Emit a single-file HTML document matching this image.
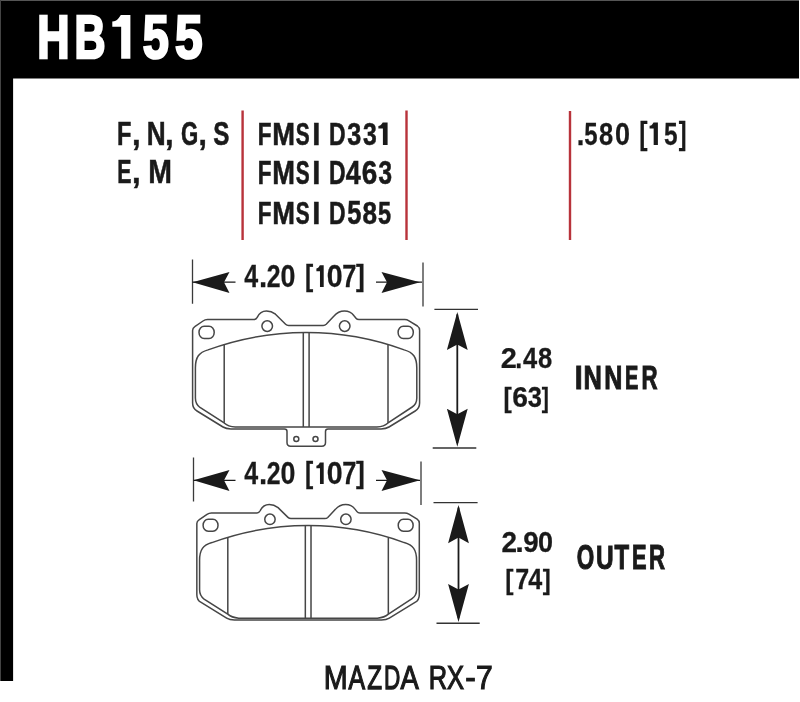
<!DOCTYPE html>
<html><head><meta charset="utf-8"><style>
html,body{margin:0;padding:0;background:#fff;}
svg{display:block;will-change:transform;}
text{font-family:"Liberation Sans", sans-serif;font-kerning:none;}
</style></head><body>
<svg width="800" height="702" viewBox="0 0 800 702">
<rect x="0" y="0" width="800" height="702" fill="#fff"/>
<rect x="0" y="0" width="799" height="78.5" fill="#000"/>
<rect x="0" y="0" width="13.1" height="681" fill="#000"/>
<rect x="0" y="0" width="799" height="1" fill="#555"/>
<rect x="0" y="0" width="1" height="681" fill="#444"/>
<path d="M242.6,110.6 L242.6,240 M406.5,110.6 L406.5,240 M570,111 L570,240" stroke="#b8333b" stroke-width="2.4" fill="none"/>
<text transform="translate(37.36,57.65) scale(0.7416,1.0000)" font-size="60.32" font-weight="bold" fill="#fff" stroke="#fff" stroke-width="2.64" stroke-linejoin="miter">H</text>
<text transform="translate(74.38,57.65) scale(0.7122,1.0000)" font-size="60.32" font-weight="bold" fill="#fff" stroke="#fff" stroke-width="2.69" stroke-linejoin="miter">B</text>
<path d="M121.17,15.00 L130.40,15.00 L130.40,58.80 L121.17,58.80 L121.17,26.83 L112.30,26.83 L112.30,21.57 C117.73,21.13 119.00,17.63 120.81,15.00 Z" fill="#fff"/>
<text transform="translate(142.71,57.65) scale(0.7763,1.0000)" font-size="60.32" font-weight="bold" fill="#fff" stroke="#fff" stroke-width="2.59" stroke-linejoin="miter">5</text>
<text transform="translate(174.92,57.65) scale(0.8230,1.0000)" font-size="60.32" font-weight="bold" fill="#fff" stroke="#fff" stroke-width="2.52" stroke-linejoin="miter">5</text>
<text transform="translate(116.97,145.05) scale(0.7171,1.0000)" font-size="32.85" font-weight="bold" fill="#1a1a1a" stroke="#1a1a1a" stroke-width="0.58" stroke-linejoin="miter">F</text>
<text transform="translate(131.89,145.05) scale(0.9469,1.0000)" font-size="32.85" font-weight="bold" fill="#1a1a1a" stroke="#1a1a1a" stroke-width="0.51" stroke-linejoin="miter">,</text>
<text transform="translate(146.80,145.05) scale(0.7974,1.0000)" font-size="32.85" font-weight="bold" fill="#1a1a1a" stroke="#1a1a1a" stroke-width="0.56" stroke-linejoin="miter">N</text>
<text transform="translate(164.89,145.05) scale(0.9469,1.0000)" font-size="32.85" font-weight="bold" fill="#1a1a1a" stroke="#1a1a1a" stroke-width="0.51" stroke-linejoin="miter">,</text>
<text transform="translate(181.09,145.05) scale(0.6744,1.0000)" font-size="32.85" font-weight="bold" fill="#1a1a1a" stroke="#1a1a1a" stroke-width="0.60" stroke-linejoin="miter">G</text>
<text transform="translate(198.41,145.05) scale(0.9150,1.0000)" font-size="32.85" font-weight="bold" fill="#1a1a1a" stroke="#1a1a1a" stroke-width="0.52" stroke-linejoin="miter">,</text>
<text transform="translate(213.25,145.05) scale(0.7368,1.0000)" font-size="32.85" font-weight="bold" fill="#1a1a1a" stroke="#1a1a1a" stroke-width="0.58" stroke-linejoin="miter">S</text>
<text transform="translate(117.13,183.00) scale(0.6571,1.0000)" font-size="32.41" font-weight="bold" fill="#1a1a1a" stroke="#1a1a1a" stroke-width="0.60" stroke-linejoin="miter">E</text>
<text transform="translate(131.89,183.00) scale(0.9596,1.0000)" font-size="32.41" font-weight="bold" fill="#1a1a1a" stroke="#1a1a1a" stroke-width="0.51" stroke-linejoin="miter">,</text>
<text transform="translate(148.15,183.00) scale(0.8780,1.0000)" font-size="32.41" font-weight="bold" fill="#1a1a1a" stroke="#1a1a1a" stroke-width="0.53" stroke-linejoin="miter">M</text>
<text transform="translate(257.75,144.75) scale(0.7027,1.0000)" font-size="31.98" font-weight="bold" fill="#1a1a1a" stroke="#1a1a1a" stroke-width="0.59" stroke-linejoin="miter">F</text>
<text transform="translate(272.22,144.75) scale(0.8542,1.0000)" font-size="31.98" font-weight="bold" fill="#1a1a1a" stroke="#1a1a1a" stroke-width="0.54" stroke-linejoin="miter">M</text>
<text transform="translate(295.65,144.75) scale(0.6525,1.0000)" font-size="31.98" font-weight="bold" fill="#1a1a1a" stroke="#1a1a1a" stroke-width="0.61" stroke-linejoin="miter">S</text>
<text transform="translate(312.20,144.75) scale(0.9118,1.0000)" font-size="31.98" font-weight="bold" fill="#1a1a1a" stroke="#1a1a1a" stroke-width="0.52" stroke-linejoin="miter">I</text>
<text transform="translate(329.11,144.75) scale(0.7190,1.0000)" font-size="31.98" font-weight="bold" fill="#1a1a1a" stroke="#1a1a1a" stroke-width="0.58" stroke-linejoin="miter">D</text>
<text transform="translate(347.27,144.75) scale(0.7864,1.0000)" font-size="31.98" font-weight="bold" fill="#1a1a1a" stroke="#1a1a1a" stroke-width="0.56" stroke-linejoin="miter">3</text>
<text transform="translate(363.08,144.75) scale(0.7738,1.0000)" font-size="31.98" font-weight="bold" fill="#1a1a1a" stroke="#1a1a1a" stroke-width="0.56" stroke-linejoin="miter">3</text>
<path d="M382.91,122.50 L387.60,122.50 L387.60,145.00 L382.91,145.00 L382.91,128.57 L378.40,128.57 L378.40,125.88 C381.16,125.65 381.80,123.85 382.72,122.50 Z" fill="#1a1a1a"/>
<text transform="translate(257.75,184.25) scale(0.6948,1.0000)" font-size="32.34" font-weight="bold" fill="#1a1a1a" stroke="#1a1a1a" stroke-width="0.59" stroke-linejoin="miter">F</text>
<text transform="translate(272.22,184.25) scale(0.8446,1.0000)" font-size="32.34" font-weight="bold" fill="#1a1a1a" stroke="#1a1a1a" stroke-width="0.54" stroke-linejoin="miter">M</text>
<text transform="translate(295.65,184.25) scale(0.6451,1.0000)" font-size="32.34" font-weight="bold" fill="#1a1a1a" stroke="#1a1a1a" stroke-width="0.61" stroke-linejoin="miter">S</text>
<text transform="translate(312.20,184.25) scale(0.9016,1.0000)" font-size="32.34" font-weight="bold" fill="#1a1a1a" stroke="#1a1a1a" stroke-width="0.53" stroke-linejoin="miter">I</text>
<text transform="translate(329.11,184.25) scale(0.7109,1.0000)" font-size="32.34" font-weight="bold" fill="#1a1a1a" stroke="#1a1a1a" stroke-width="0.58" stroke-linejoin="miter">D</text>
<text transform="translate(345.84,184.25) scale(0.8313,1.0000)" font-size="32.34" font-weight="bold" fill="#1a1a1a" stroke="#1a1a1a" stroke-width="0.55" stroke-linejoin="miter">4</text>
<text transform="translate(361.83,184.25) scale(0.8635,1.0000)" font-size="32.34" font-weight="bold" fill="#1a1a1a" stroke="#1a1a1a" stroke-width="0.54" stroke-linejoin="miter">6</text>
<text transform="translate(378.59,184.25) scale(0.7527,1.0000)" font-size="32.34" font-weight="bold" fill="#1a1a1a" stroke="#1a1a1a" stroke-width="0.57" stroke-linejoin="miter">3</text>
<text transform="translate(257.75,223.85) scale(0.6964,1.0000)" font-size="32.27" font-weight="bold" fill="#1a1a1a" stroke="#1a1a1a" stroke-width="0.59" stroke-linejoin="miter">F</text>
<text transform="translate(272.22,223.85) scale(0.8465,1.0000)" font-size="32.27" font-weight="bold" fill="#1a1a1a" stroke="#1a1a1a" stroke-width="0.54" stroke-linejoin="miter">M</text>
<text transform="translate(295.65,223.85) scale(0.6466,1.0000)" font-size="32.27" font-weight="bold" fill="#1a1a1a" stroke="#1a1a1a" stroke-width="0.61" stroke-linejoin="miter">S</text>
<text transform="translate(312.20,223.85) scale(0.9036,1.0000)" font-size="32.27" font-weight="bold" fill="#1a1a1a" stroke="#1a1a1a" stroke-width="0.53" stroke-linejoin="miter">I</text>
<text transform="translate(329.11,223.85) scale(0.7125,1.0000)" font-size="32.27" font-weight="bold" fill="#1a1a1a" stroke="#1a1a1a" stroke-width="0.58" stroke-linejoin="miter">D</text>
<text transform="translate(347.22,223.85) scale(0.7879,1.0000)" font-size="32.27" font-weight="bold" fill="#1a1a1a" stroke="#1a1a1a" stroke-width="0.56" stroke-linejoin="miter">5</text>
<text transform="translate(362.62,223.85) scale(0.8098,1.0000)" font-size="32.27" font-weight="bold" fill="#1a1a1a" stroke="#1a1a1a" stroke-width="0.55" stroke-linejoin="miter">8</text>
<text transform="translate(377.93,223.85) scale(0.7287,1.0000)" font-size="32.27" font-weight="bold" fill="#1a1a1a" stroke="#1a1a1a" stroke-width="0.58" stroke-linejoin="miter">5</text>
<text transform="translate(576.67,144.78) scale(0.8474,1.0000)" font-size="32.20" font-weight="bold" fill="#1a1a1a" stroke="#1a1a1a" stroke-width="0.27" stroke-linejoin="miter">.</text>
<text transform="translate(584.14,144.78) scale(0.7429,1.0000)" font-size="32.20" font-weight="bold" fill="#1a1a1a" stroke="#1a1a1a" stroke-width="0.29" stroke-linejoin="miter">5</text>
<text transform="translate(599.06,144.78) scale(0.7928,1.0000)" font-size="32.20" font-weight="bold" fill="#1a1a1a" stroke="#1a1a1a" stroke-width="0.28" stroke-linejoin="miter">8</text>
<text transform="translate(614.96,144.78) scale(0.8392,1.0000)" font-size="32.20" font-weight="bold" fill="#1a1a1a" stroke="#1a1a1a" stroke-width="0.27" stroke-linejoin="miter">0</text>
<text transform="translate(639.34,144.15) scale(0.7687,0.9655)" font-size="32.20" font-weight="bold" fill="#1a1a1a" stroke="#1a1a1a" stroke-width="0.28" stroke-linejoin="miter">[</text>
<path d="M653.67,122.50 L657.90,122.50 L657.90,144.90 L653.67,144.90 L653.67,128.55 L649.60,128.55 L649.60,125.86 C652.09,125.64 652.67,123.84 653.50,122.50 Z" fill="#1a1a1a"/>
<text transform="translate(663.97,144.78) scale(0.7585,1.0000)" font-size="32.20" font-weight="bold" fill="#1a1a1a" stroke="#1a1a1a" stroke-width="0.28" stroke-linejoin="miter">5</text>
<text transform="translate(678.74,144.15) scale(0.7218,0.9655)" font-size="32.20" font-weight="bold" fill="#1a1a1a" stroke="#1a1a1a" stroke-width="0.29" stroke-linejoin="miter">]</text>
<text transform="translate(244.30,286.77) scale(0.8061,1.0000)" font-size="31.03" font-weight="bold" fill="#1a1a1a" stroke="#1a1a1a" stroke-width="0.28" stroke-linejoin="miter">4</text>
<text transform="translate(258.93,286.77) scale(0.9477,1.0000)" font-size="31.03" font-weight="bold" fill="#1a1a1a" stroke="#1a1a1a" stroke-width="0.26" stroke-linejoin="miter">.</text>
<text transform="translate(266.86,286.77) scale(0.7998,1.0000)" font-size="31.03" font-weight="bold" fill="#1a1a1a" stroke="#1a1a1a" stroke-width="0.28" stroke-linejoin="miter">2</text>
<text transform="translate(280.46,286.77) scale(0.8639,1.0000)" font-size="31.03" font-weight="bold" fill="#1a1a1a" stroke="#1a1a1a" stroke-width="0.27" stroke-linejoin="miter">0</text>
<text transform="translate(305.04,286.16) scale(0.7975,0.9668)" font-size="31.03" font-weight="bold" fill="#1a1a1a" stroke="#1a1a1a" stroke-width="0.28" stroke-linejoin="miter">[</text>
<path d="M319.98,265.30 L323.70,265.30 L323.70,286.90 L319.98,286.90 L319.98,271.13 L316.40,271.13 L316.40,268.54 C318.59,268.32 319.10,266.60 319.83,265.30 Z" fill="#1a1a1a"/>
<text transform="translate(326.74,286.77) scale(0.9215,1.0000)" font-size="31.03" font-weight="bold" fill="#1a1a1a" stroke="#1a1a1a" stroke-width="0.26" stroke-linejoin="miter">0</text>
<text transform="translate(342.23,286.77) scale(0.8206,1.0000)" font-size="31.03" font-weight="bold" fill="#1a1a1a" stroke="#1a1a1a" stroke-width="0.27" stroke-linejoin="miter">7</text>
<text transform="translate(356.00,286.16) scale(0.8584,0.9668)" font-size="31.03" font-weight="bold" fill="#1a1a1a" stroke="#1a1a1a" stroke-width="0.27" stroke-linejoin="miter">]</text>
<text transform="translate(244.30,483.88) scale(0.8061,1.0000)" font-size="31.03" font-weight="bold" fill="#1a1a1a" stroke="#1a1a1a" stroke-width="0.28" stroke-linejoin="miter">4</text>
<text transform="translate(258.93,483.88) scale(0.9477,1.0000)" font-size="31.03" font-weight="bold" fill="#1a1a1a" stroke="#1a1a1a" stroke-width="0.26" stroke-linejoin="miter">.</text>
<text transform="translate(266.86,483.88) scale(0.7998,1.0000)" font-size="31.03" font-weight="bold" fill="#1a1a1a" stroke="#1a1a1a" stroke-width="0.28" stroke-linejoin="miter">2</text>
<text transform="translate(280.46,483.88) scale(0.8639,1.0000)" font-size="31.03" font-weight="bold" fill="#1a1a1a" stroke="#1a1a1a" stroke-width="0.27" stroke-linejoin="miter">0</text>
<text transform="translate(305.04,483.26) scale(0.7975,0.9668)" font-size="31.03" font-weight="bold" fill="#1a1a1a" stroke="#1a1a1a" stroke-width="0.28" stroke-linejoin="miter">[</text>
<path d="M319.98,462.40 L323.70,462.40 L323.70,484.00 L319.98,484.00 L319.98,468.23 L316.40,468.23 L316.40,465.64 C318.59,465.42 319.10,463.70 319.83,462.40 Z" fill="#1a1a1a"/>
<text transform="translate(326.74,483.88) scale(0.9215,1.0000)" font-size="31.03" font-weight="bold" fill="#1a1a1a" stroke="#1a1a1a" stroke-width="0.26" stroke-linejoin="miter">0</text>
<text transform="translate(342.23,483.88) scale(0.8206,1.0000)" font-size="31.03" font-weight="bold" fill="#1a1a1a" stroke="#1a1a1a" stroke-width="0.27" stroke-linejoin="miter">7</text>
<text transform="translate(356.00,483.26) scale(0.8584,0.9668)" font-size="31.03" font-weight="bold" fill="#1a1a1a" stroke="#1a1a1a" stroke-width="0.27" stroke-linejoin="miter">]</text>
<text transform="translate(500.72,368.18) scale(0.9701,1.0000)" font-size="29.87" font-weight="bold" fill="#1a1a1a" stroke="#1a1a1a" stroke-width="0.25" stroke-linejoin="miter">2</text>
<text transform="translate(515.32,368.18) scale(0.8422,1.0000)" font-size="29.87" font-weight="bold" fill="#1a1a1a" stroke="#1a1a1a" stroke-width="0.27" stroke-linejoin="miter">.</text>
<text transform="translate(523.04,368.18) scale(0.8531,1.0000)" font-size="29.87" font-weight="bold" fill="#1a1a1a" stroke="#1a1a1a" stroke-width="0.27" stroke-linejoin="miter">4</text>
<text transform="translate(538.11,368.18) scale(0.8579,1.0000)" font-size="29.87" font-weight="bold" fill="#1a1a1a" stroke="#1a1a1a" stroke-width="0.27" stroke-linejoin="miter">8</text>
<text transform="translate(503.54,406.59) scale(0.8493,0.9692)" font-size="29.14" font-weight="bold" fill="#1a1a1a" stroke="#1a1a1a" stroke-width="0.27" stroke-linejoin="miter">[</text>
<text transform="translate(512.29,407.18) scale(0.9689,1.0000)" font-size="29.14" font-weight="bold" fill="#1a1a1a" stroke="#1a1a1a" stroke-width="0.25" stroke-linejoin="miter">6</text>
<text transform="translate(527.64,407.18) scale(0.8733,1.0000)" font-size="29.14" font-weight="bold" fill="#1a1a1a" stroke="#1a1a1a" stroke-width="0.27" stroke-linejoin="miter">3</text>
<text transform="translate(541.86,406.59) scale(0.7326,0.9692)" font-size="29.14" font-weight="bold" fill="#1a1a1a" stroke="#1a1a1a" stroke-width="0.29" stroke-linejoin="miter">]</text>
<text transform="translate(574.80,388.95) scale(0.8551,1.0000)" font-size="33.29" font-weight="bold" fill="#1a1a1a" stroke="#1a1a1a" stroke-width="0.97" stroke-linejoin="miter">I</text>
<text transform="translate(583.50,388.95) scale(0.7640,1.0000)" font-size="33.29" font-weight="bold" fill="#1a1a1a" stroke="#1a1a1a" stroke-width="1.02" stroke-linejoin="miter">N</text>
<text transform="translate(604.37,388.95) scale(0.7538,1.0000)" font-size="33.29" font-weight="bold" fill="#1a1a1a" stroke="#1a1a1a" stroke-width="1.03" stroke-linejoin="miter">N</text>
<text transform="translate(625.11,388.95) scale(0.5998,1.0000)" font-size="33.29" font-weight="bold" fill="#1a1a1a" stroke="#1a1a1a" stroke-width="1.13" stroke-linejoin="miter">E</text>
<text transform="translate(641.46,388.95) scale(0.6673,1.0000)" font-size="33.29" font-weight="bold" fill="#1a1a1a" stroke="#1a1a1a" stroke-width="1.08" stroke-linejoin="miter">R</text>
<text transform="translate(501.56,551.77) scale(0.9218,1.0000)" font-size="30.31" font-weight="bold" fill="#1a1a1a" stroke="#1a1a1a" stroke-width="0.26" stroke-linejoin="miter">2</text>
<text transform="translate(515.23,551.77) scale(1.0172,1.0000)" font-size="30.31" font-weight="bold" fill="#1a1a1a" stroke="#1a1a1a" stroke-width="0.25" stroke-linejoin="miter">.</text>
<text transform="translate(523.26,551.77) scale(0.9163,1.0000)" font-size="30.31" font-weight="bold" fill="#1a1a1a" stroke="#1a1a1a" stroke-width="0.26" stroke-linejoin="miter">9</text>
<text transform="translate(537.96,551.77) scale(0.8916,1.0000)" font-size="30.31" font-weight="bold" fill="#1a1a1a" stroke="#1a1a1a" stroke-width="0.26" stroke-linejoin="miter">0</text>
<text transform="translate(505.14,588.90) scale(0.8622,0.9698)" font-size="28.71" font-weight="bold" fill="#1a1a1a" stroke="#1a1a1a" stroke-width="0.27" stroke-linejoin="miter">[</text>
<text transform="translate(515.15,589.48) scale(0.8723,1.0000)" font-size="28.71" font-weight="bold" fill="#1a1a1a" stroke="#1a1a1a" stroke-width="0.27" stroke-linejoin="miter">7</text>
<text transform="translate(528.34,589.48) scale(0.8747,1.0000)" font-size="28.71" font-weight="bold" fill="#1a1a1a" stroke="#1a1a1a" stroke-width="0.27" stroke-linejoin="miter">4</text>
<text transform="translate(542.73,588.90) scale(0.8358,0.9698)" font-size="28.71" font-weight="bold" fill="#1a1a1a" stroke="#1a1a1a" stroke-width="0.27" stroke-linejoin="miter">]</text>
<text transform="translate(576.78,568.95) scale(0.6573,1.0000)" font-size="34.16" font-weight="bold" fill="#1a1a1a" stroke="#1a1a1a" stroke-width="1.09" stroke-linejoin="miter">O</text>
<text transform="translate(595.88,568.95) scale(0.7160,1.0000)" font-size="34.16" font-weight="bold" fill="#1a1a1a" stroke="#1a1a1a" stroke-width="1.05" stroke-linejoin="miter">U</text>
<text transform="translate(614.58,568.95) scale(0.7010,1.0000)" font-size="34.16" font-weight="bold" fill="#1a1a1a" stroke="#1a1a1a" stroke-width="1.06" stroke-linejoin="miter">T</text>
<text transform="translate(632.09,568.95) scale(0.6392,1.0000)" font-size="34.16" font-weight="bold" fill="#1a1a1a" stroke="#1a1a1a" stroke-width="1.10" stroke-linejoin="miter">E</text>
<text transform="translate(648.96,568.95) scale(0.6503,1.0000)" font-size="34.16" font-weight="bold" fill="#1a1a1a" stroke="#1a1a1a" stroke-width="1.09" stroke-linejoin="miter">R</text>
<text transform="translate(323.70,689.25) scale(0.8511,1.0000)" font-size="33.72" font-weight="normal" fill="#1a1a1a" stroke="#1a1a1a" stroke-width="1.19" stroke-linejoin="miter">M</text>
<text transform="translate(348.60,689.25) scale(0.7379,1.0000)" font-size="33.72" font-weight="normal" fill="#1a1a1a" stroke="#1a1a1a" stroke-width="1.27" stroke-linejoin="miter">A</text>
<text transform="translate(367.28,689.25) scale(0.7199,1.0000)" font-size="33.72" font-weight="normal" fill="#1a1a1a" stroke="#1a1a1a" stroke-width="1.28" stroke-linejoin="miter">Z</text>
<text transform="translate(383.95,689.25) scale(0.6684,1.0000)" font-size="33.72" font-weight="normal" fill="#1a1a1a" stroke="#1a1a1a" stroke-width="1.32" stroke-linejoin="miter">D</text>
<text transform="translate(400.60,689.25) scale(0.8139,1.0000)" font-size="33.72" font-weight="normal" fill="#1a1a1a" stroke="#1a1a1a" stroke-width="1.21" stroke-linejoin="miter">A</text>
<text transform="translate(428.76,689.25) scale(0.7542,1.0000)" font-size="33.72" font-weight="normal" fill="#1a1a1a" stroke="#1a1a1a" stroke-width="1.25" stroke-linejoin="miter">R</text>
<text transform="translate(446.88,689.25) scale(0.7562,1.0000)" font-size="33.72" font-weight="normal" fill="#1a1a1a" stroke="#1a1a1a" stroke-width="1.25" stroke-linejoin="miter">X</text>
<text transform="translate(465.25,689.25) scale(0.9353,1.0000)" font-size="33.72" font-weight="normal" fill="#1a1a1a" stroke="#1a1a1a" stroke-width="1.14" stroke-linejoin="miter">-</text>
<text transform="translate(476.10,689.25) scale(0.8937,1.0000)" font-size="33.72" font-weight="normal" fill="#1a1a1a" stroke="#1a1a1a" stroke-width="1.16" stroke-linejoin="miter">7</text>
<g fill="none" stroke="#464646" stroke-width="1.5">
<path d="M192.6,403 L192.6,330.5 Q192.6,328 194.8,326.6 L203,321 Q205,319.6 207.5,319.6 L254,319.6 Q256,319.6 257.2,317.4 C259.5,312.5 262,311 266.5,311 C270.5,311 273,312.3 275.5,314.2 L285.6,324.2 Q286.8,325.4 288.6,325.4 L323.2,325.4 Q325,325.4 326.2,324.2 L334,316 C336.5,313 339.5,311 344.5,311 C349,311 351.8,312.8 353.8,315.5 L356,318.3 Q357,319.6 359,319.6 L404.8,319.6 Q407,319.6 409,320.8 L417.4,326 Q419.6,327.5 419.6,330.2 L419.6,403 Q419.6,408.5 415.2,411 L389,427 Q386,428.9 381,428.9 L328,428.9 Q325.5,428.9 325.5,431.4 L325.5,442.6 Q325.5,446.3 321.8,446.3 L290.7,446.3 Q287,446.3 287,442.6 L287,431.4 Q287,428.9 284.5,428.9 L231,428.9 Q226,428.9 223,427 L197,411 Q192.6,408.5 192.6,403 Z"/>
<path d="M195.4,398 L195.4,368 C195.4,357 199,352.5 208,349.9 A286,286 0 0 1 404.2,349.9 C413.2,352.5 416.8,357 416.8,368 L416.8,398 Q416.8,404 412.2,407 L387.7,423.2 Q384.2,426.4 376.9,427 L235.3,427 Q228,426.4 224.5,423.2 L200,407.5 Q195.4,404 195.4,398 Z"/>
<rect x="199" y="326.2" width="15.2" height="12.2" rx="5.2" ry="6"/><rect x="398.1" y="326.2" width="15.2" height="12.2" rx="5.2" ry="6"/>
<path d="M224.2,344.3 L224.2,422.8 M388,344.9 L388,422.8 M303.3,332.4 L303.3,427 M309.1,332.4 L309.1,427"/>
<circle cx="267.2" cy="326.1" r="5.3"/><circle cx="344.7" cy="326.1" r="5.3"/><circle cx="296.3" cy="439" r="2.5"/><circle cx="315.5" cy="439" r="2.5"/>
</g>
<g fill="none" stroke="#464646" stroke-width="1.53" transform="translate(419.3,512.8) scale(0.98) translate(-419.6,-319.5)">
<path d="M192.6,403 L192.6,330.5 Q192.6,328 194.8,326.6 L203,321 Q205,319.6 207.5,319.6 L254,319.6 Q256,319.6 257.2,317.4 C259.5,312.5 262,311 266.5,311 C270.5,311 273,312.3 275.5,314.2 L285.6,324.2 Q286.8,325.4 288.6,325.4 L323.2,325.4 Q325,325.4 326.2,324.2 L334,316 C336.5,313 339.5,311 344.5,311 C349,311 351.8,312.8 353.8,315.5 L356,318.3 Q357,319.6 359,319.6 L404.8,319.6 Q407,319.6 409,320.8 L417.4,326 Q419.6,327.5 419.6,330.2 L419.6,403 Q419.6,408.5 415.2,411 L389,427 Q386,428.9 381,428.9 L231,428.9 Q226,428.9 223,427 L197,411 Q192.6,408.5 192.6,403 Z"/>
<path d="M195.4,398 L195.4,368 C195.4,357 199,352.5 208,349.9 A286,286 0 0 1 404.2,349.9 C413.2,352.5 416.8,357 416.8,368 L416.8,398 Q416.8,404 412.2,407 L387.7,423.2 Q384.2,426.4 376.9,427 L235.3,427 Q228,426.4 224.5,423.2 L200,407.5 Q195.4,404 195.4,398 Z"/>
<rect x="199" y="326.2" width="15.2" height="12.2" rx="5.2" ry="6"/><rect x="398.1" y="326.2" width="15.2" height="12.2" rx="5.2" ry="6"/>
<path d="M224.2,344.3 L224.2,422.8 M388,344.9 L388,422.8 M303.3,332.4 L303.3,427 M309.1,332.4 L309.1,427"/>
<circle cx="267.2" cy="326.1" r="5.3"/><circle cx="344.7" cy="326.1" r="5.3"/>
</g>
<path d="M192.5,259.5 L192.5,303.8 M423,262.5 L423,306.5" stroke="#3a3a3a" stroke-width="1.3" fill="none"/>
<path d="M192.5,282.2 L235.5,282.2 M376,282.2 L422,282.2" stroke="#1a1a1a" stroke-width="1.3" fill="none"/>
<path d="M192.5,282.2 L229.5,271.9 L224,282.2 L229.5,293.0 Z M420,282.2 L381.5,271.9 L387,282.2 L381.5,293.0 Z" fill="#1a1a1a"/><path d="M193.5,457.5 L193.5,501.5 M421,461.5 L421,505" stroke="#3a3a3a" stroke-width="1.3" fill="none"/>
<path d="M193.5,480.3 L235.5,480.3 M376,480.3 L420,480.3" stroke="#1a1a1a" stroke-width="1.3" fill="none"/>
<path d="M193.5,480.3 L229.5,470.0 L224,480.3 L229.5,491.1 Z M420,480.3 L381.5,470.0 L387,480.3 L381.5,491.1 Z" fill="#1a1a1a"/><path d="M434.4,309.4 L478,309.4 M432.7,448 L476.3,448" stroke="#333" stroke-width="1.4" fill="none"/>
<path d="M457.3,314.4 L457.3,443" stroke="#1a1a1a" stroke-width="1.8" fill="none"/>
<path d="M457.3,311.9 L467.7,350.0 L457.3,344.4 L446.90000000000003,350.0 Z M457.3,446.8 L467.7,408.7 L457.3,414.2 L446.90000000000003,408.7 Z" fill="#1a1a1a"/><path d="M433.5,502.6 L477.6,502.6 M436.5,623.2 L479.7,623.2" stroke="#333" stroke-width="1.4" fill="none"/>
<path d="M458.5,507.6 L458.5,618.2" stroke="#1a1a1a" stroke-width="1.8" fill="none"/>
<path d="M458.5,505.1 L468.9,543.2 L458.5,537.6 L448.1,543.2 Z M458.5,622.0 L468.9,583.9000000000001 L458.5,589.4000000000001 L448.1,583.9000000000001 Z" fill="#1a1a1a"/>
</svg>
</body></html>
